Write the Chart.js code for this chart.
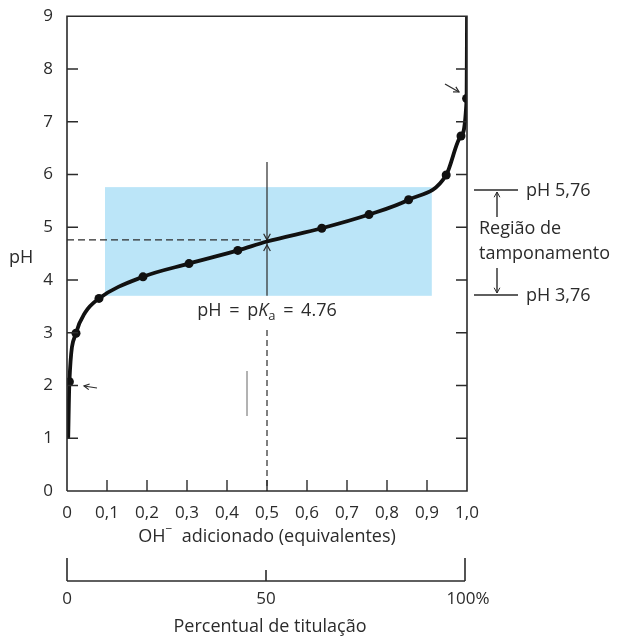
<!DOCTYPE html>
<html>
<head>
<meta charset="utf-8">
<script src="https://cdn.jsdelivr.net/npm/chart.js@4.4.0/dist/chart.umd.min.js"></script>
<style>
    html, body { margin: 0; padding: 0; background: #fff; }
    #wrap { width: 617px; height: 639px; }
</style>
</head>
<body>
<div id="wrap"><canvas id="myChart"></canvas></div>
<script>
// valores
let curve_x  = [0.003, 0.006, 0.0225, 0.045, 0.08, 0.19, 0.305, 0.427, 0.5, 0.637, 0.755, 0.854, 0.948, 0.985, 0.999, 1.0]
let curve_ph = [1.0, 2.07, 2.99, 3.38, 3.65, 4.06, 4.31, 4.56, 4.73, 4.98, 5.24, 5.52, 5.99, 6.73, 7.44, 9.0]
let dots_x  = [0.006, 0.0225, 0.08, 0.19, 0.305, 0.427, 0.637, 0.755, 0.854, 0.948, 0.985, 0.999]
let dots_ph = [2.07, 2.99, 3.65, 4.06, 4.31, 4.56, 4.98, 5.24, 5.52, 5.99, 6.73, 7.44]
let x_ticks = [0, 0.1, 0.2, 0.3, 0.4, 0.5, 0.6, 0.7, 0.8, 0.9, 1.0]
let y_ticks = [0, 1, 2, 3, 4, 5, 6, 7, 8, 9]
let pct_ticks = [0, 50, 100]
let pct_labels = ['0', '50', '100%']
let pka = 4.76
let half_eq = 0.5
let buffer_labels = ['pH 5,76', 'pH 3,76']
let box_x = [0.095, 0.912]
let box_ph = [3.70, 5.76]

const FONT = '"Open Sans", sans-serif'
const INK = '#2b2b2b'

let ctx = document.querySelector('#myChart').getContext('2d')

function arrowHead(c, x, y, ang, len) {
    // open V arrowhead, tip at x,y
    c.beginPath()
    c.moveTo(x - len * Math.cos(ang - 0.5), y - len * Math.sin(ang - 0.5))
    c.lineTo(x, y)
    c.lineTo(x - len * Math.cos(ang + 0.5), y - len * Math.sin(ang + 0.5))
    c.stroke()
}

let decor = {
    id: 'decor',
    beforeDatasetsDraw(chart) {
        let c = chart.ctx, xs = chart.scales.x, ys = chart.scales.y
        c.save()
        c.fillStyle = '#bbe5f8'
        let x0 = xs.getPixelForValue(box_x[0]), x1 = xs.getPixelForValue(box_x[1])
        let y0 = ys.getPixelForValue(box_ph[1]), y1 = ys.getPixelForValue(box_ph[0])
        c.fillRect(x0, y0, x1 - x0, y1 - y0)

        // dashed lines at pKa
        let px = xs.getPixelForValue(half_eq), py = ys.getPixelForValue(pka)
        c.strokeStyle = INK
        c.lineWidth = 1.2
        c.setLineDash([7, 4])
        c.beginPath()
        c.moveTo(xs.left, py); c.lineTo(px - 2, py)
        c.stroke()
        c.setLineDash([6, 4])
        c.beginPath()
        c.moveTo(px, 330); c.lineTo(px, ys.bottom)
        c.stroke()
        c.setLineDash([])
        c.beginPath()
        c.moveTo(px, 162); c.lineTo(px, y1)
        c.stroke()
        arrowHead(c, px, py, Math.PI / 2, 7)
        arrowHead(c, px, py + 5, -Math.PI / 2, 7)

        // stray mark
        c.strokeStyle = '#666'
        c.lineWidth = 1
        c.beginPath()
        c.moveTo(247, 371); c.lineTo(247, 416)
        c.stroke()
        c.restore()
    },
    afterDraw(chart) {
        let c = chart.ctx, xs = chart.scales.x, ys = chart.scales.y
        let L = xs.left, R = xs.right, T = ys.top, B = ys.bottom
        c.save()
        c.strokeStyle = INK
        c.lineWidth = 1.6
        c.beginPath()
        c.moveTo(L, B); c.lineTo(L, T); c.lineTo(R, T); c.lineTo(R, B); c.lineTo(L, B)
        c.stroke()
        c.lineWidth = 1.4
        c.beginPath()
        y_ticks.slice(1, -1).forEach(v => {
            let y = ys.getPixelForValue(v)
            c.moveTo(L, y); c.lineTo(L + 11, y)
            c.moveTo(R, y); c.lineTo(R - 11, y)
        })
        x_ticks.slice(1, -1).forEach(v => {
            let x = xs.getPixelForValue(v)
            c.moveTo(x, B); c.lineTo(x, B - 11)
        })
        c.stroke()

        // arrows near end points
        c.lineWidth = 1.2
        c.beginPath(); c.moveTo(97, 388); c.lineTo(84, 386); c.stroke()
        arrowHead(c, 84, 386, Math.PI + 0.15, 6)
        c.beginPath(); c.moveTo(445, 84); c.lineTo(459, 92); c.stroke()
        arrowHead(c, 459, 92, 0.52, 6)

        // text
        c.fillStyle = INK
        c.textBaseline = 'middle'
        c.font = '18px ' + FONT
        c.textAlign = 'left'
        c.fillText('pH', 9, 258)

        // pH = pKa = 4.76
        let parts = [['pH \u2009=\u2009 p', '18px ' + FONT, 0], ['K', 'italic 18px ' + FONT, 0], ['a', '13px ' + FONT, 5], [' \u2009=\u2009 4.76', '18px ' + FONT, 0]]
        let w = 0
        parts.forEach(p => { c.font = p[1]; w += c.measureText(p[0]).width })
        let tx = xs.getPixelForValue(half_eq) - w / 2
        parts.forEach(p => { c.font = p[1]; c.fillText(p[0], tx, 311 + p[2]); tx += c.measureText(p[0]).width })

        // buffer region on the right
        let yh = 190, yl = 295
        c.lineWidth = 1.4
        c.beginPath()
        c.moveTo(474, yh); c.lineTo(518, yh)
        c.moveTo(474, yl); c.lineTo(518, yl)
        c.moveTo(497, 217); c.lineTo(497, yh + 2)
        c.moveTo(497, 268); c.lineTo(497, yl - 2)
        c.stroke()
        c.lineWidth = 1
        arrowHead(c, 497, yh + 2, -Math.PI / 2, 6)
        arrowHead(c, 497, yl - 2, Math.PI / 2, 6)
        c.font = '18px ' + FONT
        c.fillText(buffer_labels[0], 526, yh + 1)
        c.fillText(buffer_labels[1], 526, yl + 1)
        c.fillText('Região de', 479, 229)
        c.fillText('tamponamento', 479, 254)

        // x axis title with OH-
        let t1 = 'OH', t2 = '\u2212', t3 = '  adicionado (equivalentes)'
        c.font = '18px ' + FONT
        let w1 = c.measureText(t1).width, w3 = c.measureText(t3).width
        c.font = '12px ' + FONT
        let w2 = c.measureText(t2).width
        let sx = 267 - (w1 + w2 + w3) / 2
        c.font = '18px ' + FONT
        c.fillText(t1, sx, 537)
        c.font = '12px ' + FONT
        c.fillText(t2, sx + w1, 530)
        c.font = '18px ' + FONT
        c.fillText(t3, sx + w1 + w2, 537)

        // second scale: percentual de titulacao
        let pl = L, pr = R - 2, pyb = 581
        let pxOf = v => pl + (pr - pl) * v / 100
        c.lineWidth = 1.6
        c.beginPath()
        c.moveTo(pl, pyb); c.lineTo(pr, pyb)
        pct_ticks.forEach(v => {
            let len = (v === 50) ? 11 : 23
            c.moveTo(pxOf(v), pyb); c.lineTo(pxOf(v), pyb - len)
        })
        c.stroke()
        c.textAlign = 'center'
        c.font = '17px ' + FONT
        pct_ticks.forEach((v, i) => {
            let x = pxOf(v)
            if (i === pct_ticks.length - 1) x += 3
            c.fillText(pct_labels[i], x, 599)
        })
        c.font = '18px ' + FONT
        c.fillText('Percentual de titulação', 270, 627)
        c.restore()
    }
}

let myChart = new Chart(ctx, {
    type: 'line',
    data: {
        datasets: [{
            label: 'curva',
            data: curve_x.map((x, i) => ({ x: x, y: curve_ph[i] })),
            borderColor: '#111',
            borderWidth: 3.8,
            cubicInterpolationMode: 'monotone',
            pointRadius: 0,
            fill: false
        }, {
            label: 'pontos',
            data: dots_x.map((x, i) => ({ x: x, y: dots_ph[i] })),
            showLine: false,
            pointRadius: 4.5,
            pointBackgroundColor: '#111',
            pointBorderColor: '#111',
            pointBorderWidth: 0
        }]
    },
    options: {
        responsive: true,
        maintainAspectRatio: false,
        animation: false,
        layout: { padding: { left: 0, right: 150, top: 15, bottom: 0 } },
        scales: {
            x: {
                type: 'linear',
                min: 0,
                max: 1,
                grid: { display: false },
                border: { display: false },
                afterBuildTicks: s => { s.ticks = x_ticks.map(v => ({ value: v })) },
                afterFit: s => { s.height = 148 },
                ticks: {
                    color: INK,
                    padding: 4,
                    maxRotation: 0,
                    autoSkip: false,
                    font: { family: FONT, size: 17 },
                    callback: v => v === 0 ? '0' : v.toFixed(1).replace('.', ',')
                }
            },
            y: {
                min: 0,
                max: 9,
                grid: { display: false },
                border: { display: false },
                afterBuildTicks: s => { s.ticks = y_ticks.map(v => ({ value: v })) },
                afterFit: s => { s.width = 67 },
                ticks: {
                    color: INK,
                    padding: 6,
                    font: { family: FONT, size: 17 }
                }
            }
        },
        plugins: {
            legend: { display: false },
            tooltip: { enabled: false }
        }
    },
    plugins: [decor]
})
</script>
</body>
</html>
